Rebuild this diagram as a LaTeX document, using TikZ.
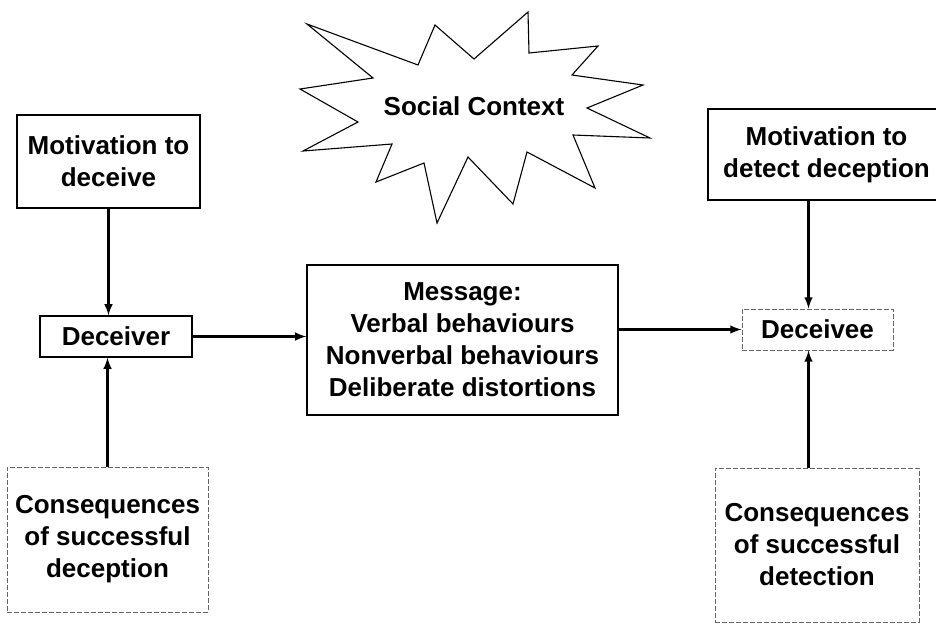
\documentclass[tikz,border=0pt]{standalone}
\usepackage{fontspec}
\setmainfont{Liberation Sans}
\usepackage{tikz}
\usetikzlibrary{arrows,calc,positioning}
\tikzset{%
	box/.style      = {draw, rectangle, line width=1.3pt, align=center, inner sep=0pt}, % solid box
	faintbox/.style = {box, draw=black!60, line width=1pt, dash pattern=on 5pt off 2pt}, % scanned dotted box
	link/.style     = {-latex, line width=2.8pt}, % connector
	burst/.style    = {draw, line width=1.1pt, line join=miter}, % social context star
}

\begin{document}
\begin{tikzpicture}[x=1pt, y=-1pt, font=\bfseries\fontsize{26}{32}\selectfont]
		\useasboundingbox (0,0) rectangle (936,625);
		\clip (0,0) rectangle (936,625);
		% social context
		\draw[burst] (307,24) -- (418,65) -- (435,25) -- (474,59) -- (528,12) -- (529,53)
			-- (598,46) -- (572,75) -- (643,85) -- (587,108) -- (650,138) -- (573,135)
			-- (595,188) -- (527,152) -- (513,204) -- (468,157) -- (437,223) -- (424,163)
			-- (376,182) -- (392,144) -- (303,151) -- (358,122) -- (300,89) -- (373,78) -- cycle;
		\node (ctx) at (474,106) {Social Context};
		% deceiver side
		\node[box, minimum width=183, minimum height=93] (motdec) at (108.5,161.5) {Motivation to\\deceive};
		\node[box, minimum width=152, minimum height=41] (dcvr) at (116,336.5) {Deceiver};
		\node[faintbox, minimum width=201, minimum height=145] (condec) at (107.5,539.5) {Consequences\\of successful\\deception};
		% message
		\node[box, minimum width=311, minimum height=150] (msg) at (462.5,340) {Message:\\Verbal behaviours\\Nonverbal behaviours\\Deliberate distortions};
		% deceivee side
		\node[box, minimum width=237, minimum height=91] (motdet) at (826.5,154.5) {Motivation to\\detect deception};
		\node[faintbox, minimum width=151, minimum height=41] (dvee) at (817.5,329.5) {Deceivee};
		\node[faintbox, minimum width=204, minimum height=154] (condet) at (817,545) {Consequences\\of successful\\detection};
		\draw[link] (motdec) -- (motdec |- dcvr.north);
		\draw[link] (condec) -- (condec |- dcvr.south);
		\draw[link] (dcvr) -- (dcvr -| msg.west);
		\draw[link] (msg.east |- dvee) -- (dvee);
		\draw[link] ([xshift=-9pt]dvee.north |- motdet.south) -- ([xshift=-9pt]dvee.north);
		\draw[link] ([xshift=-9pt]dvee.south |- condet.north) -- ([xshift=-9pt]dvee.south);
\end{tikzpicture}
\end{document}
